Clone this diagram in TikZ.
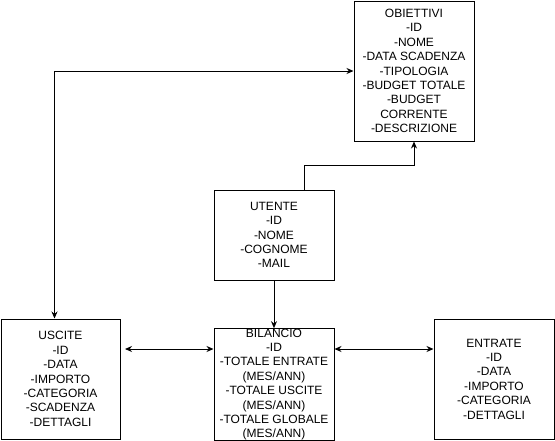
\documentclass[tikz,border=0pt]{standalone}
\usepackage{fontspec}
\setmainfont{Liberation Sans}
\usetikzlibrary{arrows.meta}
\begin{document}
\begin{tikzpicture}[x=1pt,y=-1pt,
  entity/.style={draw=black,line width=1pt,rectangle,inner sep=0pt,align=center,
    font=\fontsize{12}{14.4}\selectfont,fill=white},
  conn/.style={draw=black,line width=1pt,-{Stealth[length=7pt,width=6pt]}},
  conn2/.style={draw=black,line width=1pt,{Stealth[length=7pt,width=6pt]}-{Stealth[length=7pt,width=6pt]}}]
\useasboundingbox (0,0) rectangle (555,440);
\node[entity,minimum width=120pt,minimum height=140pt] (obj) at (414,71)
  {OBIETTIVI\\-ID\\-NOME\\-DATA SCADENZA\\-TIPOLOGIA\\-BUDGET TOTALE\\-BUDGET\\CORRENTE\\-DESCRIZIONE};
\node[entity,minimum width=120pt,minimum height=90pt] (ute) at (274,235)
  {UTENTE\\-ID\\-NOME\\-COGNOME\\-MAIL};
\node[entity,minimum width=120pt,minimum height=109pt] (bil) at (274,384.5)
  {BILANCIO\\-ID\\-TOTALE ENTRATE\\(MES/ANN)\\-TOTALE USCITE\\(MES/ANN)\\-TOTALE GLOBALE\\(MES/ANN)};
\node[entity,minimum width=119pt,minimum height=120pt] (usc) at (60.5,379)
  {USCITE\\-ID\\-DATA\\-IMPORTO\\-CATEGORIA\\-SCADENZA\\-DETTAGLI};
\node[entity,minimum width=120pt,minimum height=120pt] (ent) at (494,379)
  {ENTRATE\\-ID\\-DATA\\-IMPORTO\\-CATEGORIA\\-DETTAGLI};
\coordinate (ua) at (125,349);
\draw[conn] ([xshift=30pt]ute.north) -- ++(0,-24) -| (obj.south);
\draw[conn2] (obj.west) -| ([xshift=-6pt]usc.north);
\draw[conn] (ute.south) -- (bil.north);
\draw[conn2] (ua) -- (bil.west |- ua);
\draw[conn2] (bil.east |- ua) -- (ent.west |- ua);
\end{tikzpicture}
\end{document}
